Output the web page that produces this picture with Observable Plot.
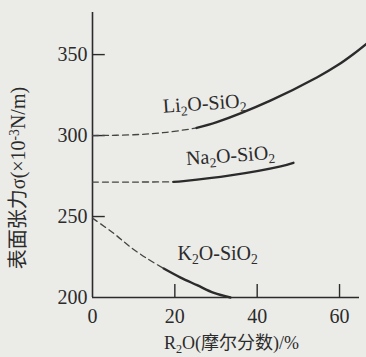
<!DOCTYPE html>
<html>
<head>
<meta charset="utf-8">
<script src="https://cdn.jsdelivr.net/npm/d3@7"></script>
<script src="https://cdn.jsdelivr.net/npm/@observablehq/plot@0.6"></script>
<style>
  html, body { margin: 0; padding: 0; background: #ebebe8; }
</style>
</head>
<body>
<div id="chart"></div>
<script>
// ---- data ----
const xTicks = [0, 20, 40, 60];
const yTicks = [200, 250, 300, 350];
const xTitle = "R_2O(摩尔分数)/%";
const yTitle = "表面张力σ(×10^{-3}N/m)";

const liDashX = [0, 10, 18, 25.3];
const liDashY = [300, 300.5, 302, 304.7];
const liX = [25.3, 30.2, 43.2, 54.6, 59.4, 63.4, 66.6];
const liY = [304.7, 308.3, 321.6, 336.0, 343.2, 350.4, 356.8];

const naDashX = [0, 10, 19.7];
const naDashY = [271.3, 271.3, 271.4];
const naX = [19.7, 22.1, 33.5, 45.7, 48.8];
const naY = [271.4, 271.9, 275.4, 281.0, 283.2];

const kDashX = [0, 5.2, 9.2, 13.3, 17.3];
const kDashY = [249, 239.5, 231.2, 224, 217.9];
const kX = [17.3, 21.4, 25.4, 29.5, 33.5];
const kY = [217.9, 212.3, 207.6, 202.8, 200];

const labelText = ["Li_2O-SiO_2", "Na_2O-SiO_2", "K_2O-SiO_2"];
const labelX = [27.2, 33.5, 30.4];
const labelY = [319.8, 287.7, 227.3];
const labelRotate = [-4, -4, 0];

// ---- build tables ----
const pts = (xs, ys) => xs.map((x, i) => ({x, y: ys[i]}));
const labels = labelText.map((t, i) => ({t, x: labelX[i], y: labelY[i], r: labelRotate[i]}));

const serif = "'Liberation Serif', 'Times New Roman', 'Noto Sans CJK SC', serif";
const ink = "#2b2b2b";

const solid = {x: "x", y: "y", curve: "catmull-rom", stroke: ink, strokeWidth: 2.4};
const dashed = {x: "x", y: "y", curve: "catmull-rom", stroke: "#444", strokeWidth: 1.3, strokeDasharray: "6,4"};

const chart = Plot.plot({
  width: 366,
  height: 357,
  marginLeft: 92,
  marginRight: 0,
  marginTop: 12,
  marginBottom: 60,
  style: {background: "#ebebe8", fontFamily: serif, fontSize: "20px", color: ink},
  x: {domain: [0, 66.55]},
  y: {domain: [200, 376]},
  marks: [
    Plot.axisX({ticks: xTicks, tickSize: 0, tickPadding: 11, label: null, fontSize: 20, fontFamily: serif}),
    Plot.axisY({ticks: yTicks, tickSize: 0, tickPadding: 5, label: null, fontSize: 20, fontFamily: serif}),
    // axis lines
    Plot.ruleX([0], {y1: 200, y2: 376, stroke: ink, strokeWidth: 1.6}),
    Plot.ruleY([200], {x1: 0, x2: 64.85, stroke: ink, strokeWidth: 1.6}),
    // inward ticks
    Plot.ruleX(xTicks.filter(d => d > 0), {y1: 200, y2: 208, stroke: ink, strokeWidth: 1.4}),
    Plot.ruleY(yTicks.filter(d => d > 200), {x1: 0, x2: 3.1, stroke: ink, strokeWidth: 1.4}),
    // curves
    Plot.line(pts(liDashX, liDashY), dashed),
    Plot.line(pts(liX, liY), {...solid, clip: true}),
    Plot.line(pts(naDashX, naDashY), dashed),
    Plot.line(pts(naX, naY), solid),
    Plot.line(pts(kDashX, kDashY), dashed),
    Plot.line(pts(kX, kY), solid),
    // curve labels
    Plot.text(labels, {x: "x", y: "y", text: "t", rotate: "r", fontSize: 20, fontFamily: serif, fill: ink, textAnchor: "middle", lineAnchor: "middle"}),
    // axis titles
    Plot.text([xTitle], {text: d => d, frameAnchor: "bottom", dx: 2, dy: 46, fontSize: 18, fontFamily: serif, fill: ink, textAnchor: "middle", lineAnchor: "middle"}),
    Plot.text([yTitle], {text: d => d, frameAnchor: "left", dx: -74, dy: 23, rotate: -90, fontSize: 20, fontFamily: serif, fill: ink, textAnchor: "middle", lineAnchor: "middle"})
  ]
});

// sub/superscripts as real tspans
d3.select(chart).selectAll("text").each(function() {
  const s = this.textContent;
  if (!/[_^]/.test(s)) return;
  const parts = s.split(/([_^](?:\{[^}]*\}|.))/).filter(p => p !== "");
  this.textContent = "";
  const el = d3.select(this);
  let shift = 0;
  for (const p of parts) {
    if (p[0] === "_" || p[0] === "^") {
      const body = p.slice(1).replace(/[{}]/g, "");
      const d = p[0] === "_" ? 0.3 : -0.45;
      el.append("tspan").attr("dy", d + "em").attr("font-size", "0.68em").text(body);
      shift = d;
    } else {
      const t = el.append("tspan").text(p);
      if (shift !== 0) { t.attr("dy", (-shift * 0.68) + "em"); shift = 0; }
    }
  }
});

document.getElementById("chart").appendChild(chart);
</script>
</body>
</html>
